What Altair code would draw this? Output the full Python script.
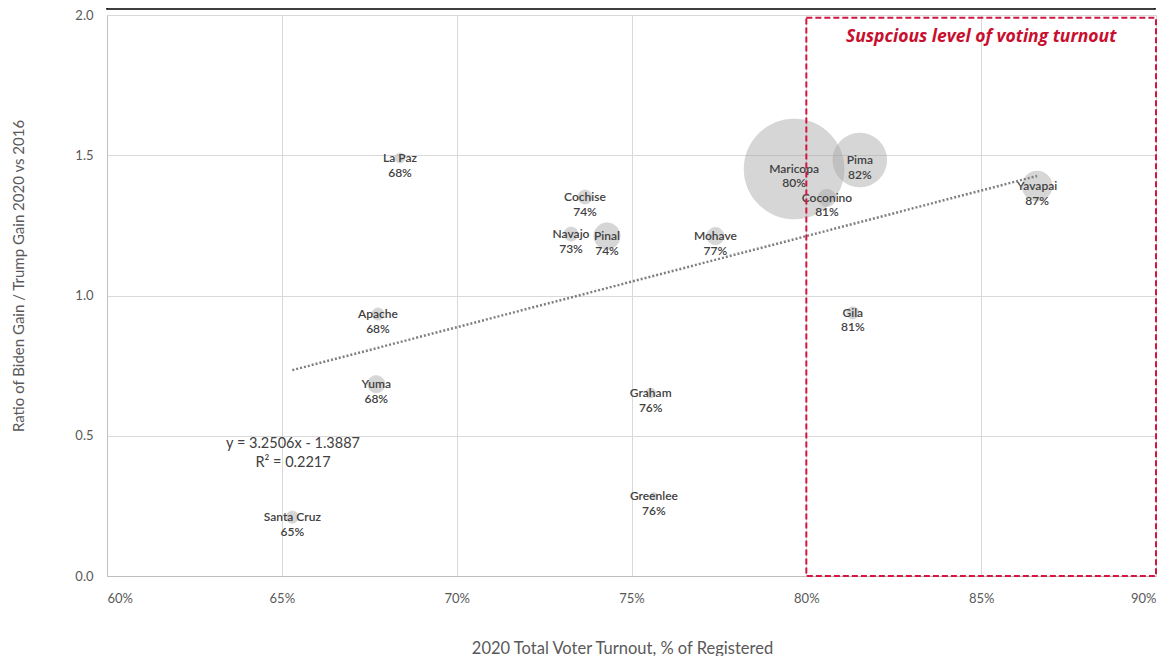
import altair as alt
import pandas as pd

# ---- data ----
counties = ["Maricopa", "Pima", "Coconino", "Yavapai", "Gila", "La Paz", "Cochise",
            "Navajo", "Pinal", "Mohave", "Apache", "Yuma", "Graham", "Greenlee", "Santa Cruz"]
turnout = [0.7965, 0.8153, 0.8059, 0.8660, 0.8133, 0.6838, 0.7367,
           0.7327, 0.7430, 0.7740, 0.6775, 0.6770, 0.7555, 0.7564, 0.6530]
ratio = [1.451, 1.483, 1.348, 1.390, 0.938, 1.490, 1.351,
         1.219, 1.212, 1.212, 0.934, 0.684, 0.652, 0.285, 0.210]
bubble = [100, 29, 3, 9, 1.5, 1, 2, 2, 7, 3, 1.5, 3, 1, 0.5, 1.5]

slope = 3.2506
intercept = -1.3887
r_squared = 0.2217

x_ticks = [0.60, 0.65, 0.70, 0.75, 0.80, 0.85, 0.90]
y_ticks = [0.0, 0.5, 1.0, 1.5, 2.0]

zone_x = [0.80, 0.90]
zone_y = [0.0, 1.99]
zone_title = "Suspcious level of voting turnout"

x_title = "2020 Total Voter Turnout, % of Registered"
y_title = "Ratio of Biden Gain / Trump Gain 2020 vs 2016"

FONT = "Lato"
W, H = 1049, 561

df = pd.DataFrame({"county": counties, "turnout": turnout, "ratio": ratio, "bubble": bubble})
df["label"] = [f"{c}\n{round(t * 100):d}%" for c, t in zip(counties, turnout)]

xs = alt.Scale(domain=[0.6, 0.9], nice=False, zero=False)
ys = alt.Scale(domain=[0, 2], nice=False, zero=True)

X = alt.X("turnout:Q", scale=xs,
          axis=alt.Axis(values=x_ticks, format=".0%", title=x_title, grid=True,
                        titleX=515, titleY=72, titleBaseline="middle", titleFontSize=16.5))
Y = alt.Y("ratio:Q", scale=ys,
          axis=alt.Axis(values=y_ticks, format=".1f", title=y_title, grid=True,
                        titleX=-89, titleY=H / 2 - 20, titleAngle=-90, titleBaseline="middle",
                        titleFontSize=15))

bubbles = alt.Chart(df).mark_circle(
    color="#a6a6a6", opacity=0.45, stroke="#9a9a9a", strokeWidth=1, strokeOpacity=0.6
).encode(
    x=X, y=Y,
    size=alt.Size("bubble:Q", scale=alt.Scale(domain=[0, 100], range=[0, 10000]), legend=None),
)

labels = alt.Chart(df).mark_text(
    font=FONT, fontSize=12, color="#404040", lineBreak="\n", baseline="middle",
    align="center", lineHeight=14.5, fontWeight=600
).encode(x="turnout:Q", y="ratio:Q", text="label:N")

tr = pd.DataFrame({"turnout": [min(turnout), max(turnout)]})
trend = alt.Chart(tr).transform_calculate(
    ratio=f"{slope} * datum.turnout + ({intercept})"
).mark_line(color="#7f7f7f", strokeWidth=2.5, strokeDash=[2, 2]).encode(
    x="turnout:Q", y="ratio:Q"
)

eq_df = pd.DataFrame({
    "turnout": [0.6532],
    "ratio": [0.47],
    "text": [f"y = {slope}x - {abs(intercept)}\nR\u00b2 = {r_squared}"],
})
equation = alt.Chart(eq_df).mark_text(
    font=FONT, fontSize=14.5, color="#404040", lineBreak="\n", lineHeight=19,
    align="center", baseline="middle"
).encode(x="turnout:Q", y="ratio:Q", text="text:N")

zone_df = pd.DataFrame({"x1": [zone_x[0]], "x2": [zone_x[1]], "y1": [zone_y[0]], "y2": [zone_y[1]]})
zone = alt.Chart(zone_df).mark_rect(
    fillOpacity=0, fill="white", stroke="#d4163f", strokeWidth=2, strokeDash=[6, 3]
).encode(x=alt.X("x1:Q", scale=xs), x2="x2:Q", y=alt.Y("y1:Q", scale=ys), y2="y2:Q")

zt_df = pd.DataFrame({"turnout": [0.85], "ratio": [1.92], "text": [zone_title]})
zone_text = alt.Chart(zt_df).mark_text(
    font="Open Sans", fontSize=17.5, fontWeight="bold", fontStyle="italic", color="#c8102e",
    align="center", baseline="middle"
).encode(x="turnout:Q", y="ratio:Q", text="text:N")

top_box = alt.Chart(pd.DataFrame({"a": [0]})).mark_rect(
    fillOpacity=0, fill="white", stroke="#000000", strokeWidth=1.5
).encode(x=alt.value(0), x2=alt.value(W - 1), y=alt.value(-40), y2=alt.value(-6))

chart = alt.layer(
    bubbles, trend, labels, equation, zone, zone_text, top_box
).properties(
    width=W, height=H,
    padding={"left": 99, "top": 7, "right": 10, "bottom": 80},
    autosize=alt.AutoSizeParams(type="none"),
    background="white",
).configure_view(stroke=None).configure_axis(
    labelFont=FONT, titleFont=FONT, labelColor="#595959", titleColor="#595959",
    labelFontSize=13, titleFontWeight="normal",
    gridColor="#d9d9d9", gridWidth=1, domainColor="#bfbfbf", ticks=False, tickSize=0,
).configure_axisX(labelPadding=16).configure_axisY(labelPadding=14)

chart.save("out.html", embed_options={"renderer": "svg", "actions": False})
